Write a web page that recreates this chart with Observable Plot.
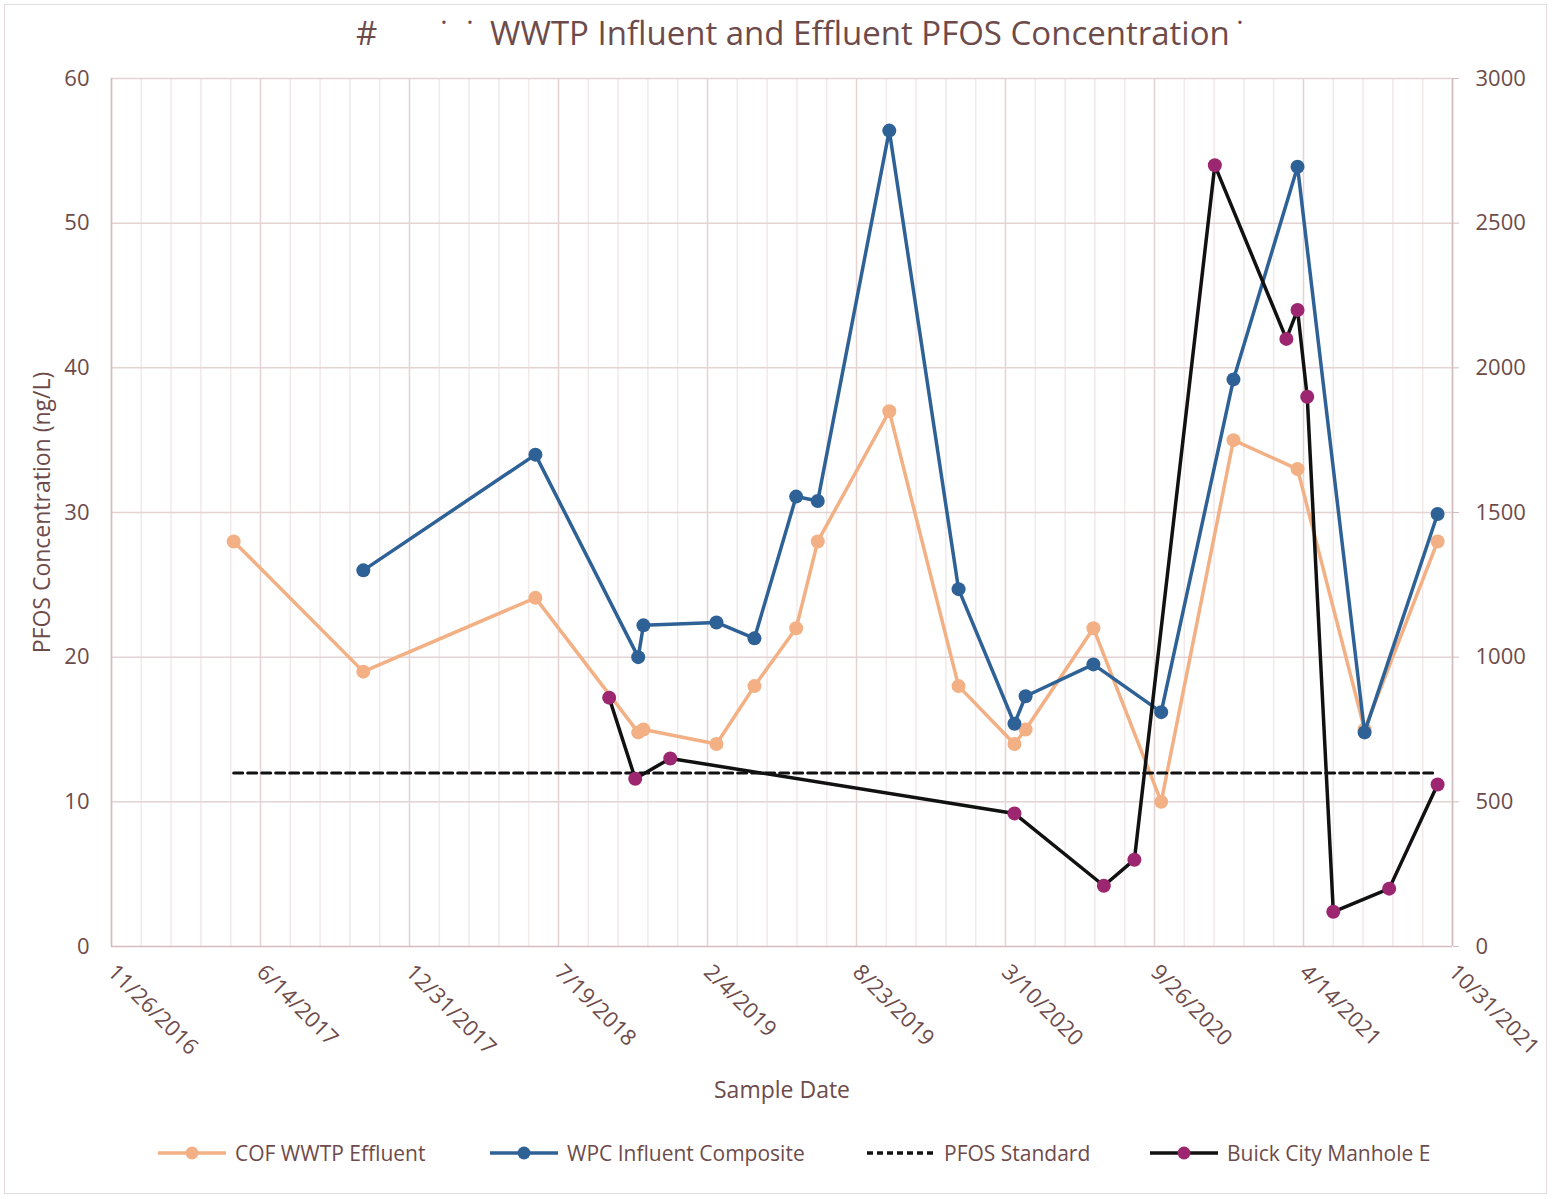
<!DOCTYPE html>
<html>
<head>
<meta charset="utf-8">
<script src="https://cdn.jsdelivr.net/npm/d3@7"></script>
<script src="https://cdn.jsdelivr.net/npm/@observablehq/plot@0.6"></script>
<style>
  html, body { margin:0; padding:0; background:#fff; }
  body { width:1559px; height:1199px; position:relative; overflow:hidden; font-family:"Open Sans", sans-serif; color:#6e4b4b; }
  #frame { position:absolute; left:4px; top:4px; width:1543px; height:1190px; border:1px solid #e6dada; box-sizing:border-box; }
  .tt { position:absolute; top:11px; font-size:33px; white-space:pre; color:#6e4b4b; line-height:44px; }
  #chart { position:absolute; left:0; top:60px; }
  .leg { position:absolute; top:1139px; height:28px; display:flex; align-items:center; font-size:21px; color:#6e4b4b; white-space:nowrap; }
  .leg svg { margin-right:8px; }
</style>
</head>
<body>
<div id="frame"></div>
<div id="title">
  <span class="tt" style="left:356px">#</span>
  <span class="tt" style="left:441px">˙</span>
  <span class="tt" style="left:467px">˙</span>
  <span class="tt" style="left:490px">WWTP Influent and Effluent PFOS Concentration</span>
  <span class="tt" style="left:1237px">˙</span>
</div>
<div id="chart"></div>
<div id="legend"></div>
<script>
// ---- data ----
const effluentDates = ["2017-05-09","2017-10-30","2018-06-18","2018-11-03","2018-11-10","2019-02-16","2019-04-08","2019-06-03","2019-07-02","2019-10-06","2020-01-07","2020-03-22","2020-04-06","2020-07-06","2020-10-05","2021-01-10","2021-04-06","2021-07-05","2021-10-11"];
const effluentValues = [28,19,24.1,14.8,15,14,18,22,28,37,18,14,15,22,10,35,33,15,28];

const influentDates = ["2017-10-30","2018-06-18","2018-11-03","2018-11-10","2019-02-16","2019-04-08","2019-06-03","2019-07-02","2019-10-06","2020-01-07","2020-03-22","2020-04-06","2020-07-06","2020-10-05","2021-01-10","2021-04-06","2021-07-05","2021-10-11"];
const influentValues = [26,34,20,22.2,22.4,21.3,31.1,30.8,56.4,24.7,15.4,17.3,19.5,16.2,39.2,53.9,14.8,29.9];

const standardDates = ["2017-05-09","2021-10-11"];
const standardValues = [12,12];

const buickDates = ["2018-09-25","2018-10-30","2018-12-16","2020-03-22","2020-07-20","2020-08-30","2020-12-16","2021-03-22","2021-04-06","2021-04-19","2021-05-24","2021-08-07","2021-10-11"];
const buickValues = [860,580,650,460,210,300,2700,2100,2200,1900,120,200,560];

const xTickLabels = ["11/26/2016","6/14/2017","12/31/2017","7/19/2018","2/4/2019","8/23/2019","3/10/2020","9/26/2020","4/14/2021","10/31/2021"];
const yLeftTicks = [0,10,20,30,40,50,60];
const yRightTicks = [0,500,1000,1500,2000,2500,3000];

const seriesNames = ["COF WWTP Effluent","WPC Influent Composite","PFOS Standard","Buick City Manhole E"];
const colors = { effluent:"#f2b084", influent:"#2e6196", buickLine:"#111111", buickDot:"#9c2770", standard:"#111111" };

// ---- build ----
const parseTick = d3.utcParse("%m/%d/%Y");
const majorTicks = xTickLabels.map(parseTick);
const xStart = majorTicks[0], xEnd = majorTicks[majorTicks.length-1];
const minorTicks = d3.range(0, 1801, 40).map(n => d3.utcDay.offset(xStart, n)).filter(d => !majorTicks.some(m => +m === +d));
const fmt = d3.utcFormat("%-m/%-d/%Y");
const ratio = 3000/60; // right axis / left axis

const eff = effluentDates.map((d,i)=>({date:new Date(d), v:effluentValues[i]}));
const inf = influentDates.map((d,i)=>({date:new Date(d), v:influentValues[i]}));
const std = standardDates.map((d,i)=>({date:new Date(d), v:standardValues[i]}));
const bui = buickDates.map((d,i)=>({date:new Date(d), v:buickValues[i]/ratio}));

const gridMajor = "#e3d3d3", gridMinor = "#f2e9e9", axisCol = "#d2bcbc";

const chart = Plot.plot({
  width:1559, height:1046,
  marginLeft:111, marginRight:107, marginTop:18, marginBottom:160,
  x:{type:"utc", domain:[xStart, xEnd]},
  y:{domain:[0,60]},
  style:{fontFamily:"Open Sans, sans-serif", fontSize:"22px", color:"#6e4b4b", background:"transparent", overflow:"visible"},
  marks:[
    Plot.ruleX(minorTicks, {stroke:gridMinor, strokeWidth:1.5}),
    Plot.ruleX(majorTicks, {stroke:gridMajor, strokeWidth:1.5}),
    Plot.ruleY(yLeftTicks.slice(1), {stroke:gridMajor, strokeWidth:1.5}),
    Plot.ruleX([xStart, xEnd], {stroke:axisCol, strokeWidth:1.5}),
    Plot.ruleY([0], {stroke:axisCol, strokeWidth:1.5}),
    Plot.axisX(majorTicks, {tickFormat:fmt, tickRotate:45, tickSize:0, tickPadding:22, fontSize:22, label:null}),
    Plot.axisY(yLeftTicks, {anchor:"left", tickSize:0, tickPadding:22, fontSize:22, label:null}),
    Plot.axisY(yRightTicks.map(v=>v/ratio), {anchor:"right", tickFormat:(d,i)=>String(yRightTicks[i]), tickSize:6, stroke:axisCol, tickPadding:17, fontSize:22, label:null}),
    Plot.text(["PFOS Concentration (ng/L)"], {frameAnchor:"left", textAnchor:"middle", dx:-69, rotate:-90, fontSize:23, fill:"#6e4b4b"}),
    Plot.text(["Sample Date"], {frameAnchor:"bottom", dy:151, fontSize:23, fill:"#6e4b4b"}),
    Plot.line(eff, {x:"date", y:"v", stroke:colors.effluent, strokeWidth:3.5}),
    Plot.dot(eff, {x:"date", y:"v", fill:colors.effluent, r:7}),
    Plot.line(inf, {x:"date", y:"v", stroke:colors.influent, strokeWidth:3.5}),
    Plot.dot(inf, {x:"date", y:"v", fill:colors.influent, r:7}),
    Plot.line(std, {x:"date", y:"v", stroke:colors.standard, strokeWidth:3, strokeDasharray:"9,5"}),
    Plot.line(bui, {x:"date", y:"v", stroke:colors.buickLine, strokeWidth:3.5}),
    Plot.dot(bui, {x:"date", y:"v", fill:colors.buickDot, r:7})
  ]
});
document.getElementById("chart").appendChild(chart);

// ---- legend ----
const legend = document.getElementById("legend");
const legItems = [
  {name:seriesNames[0], left:157, line:colors.effluent, dot:colors.effluent, dash:null},
  {name:seriesNames[1], left:489, line:colors.influent, dot:colors.influent, dash:null},
  {name:seriesNames[2], left:866, line:colors.standard, dot:null, dash:"6,4"},
  {name:seriesNames[3], left:1149, line:colors.buickLine, dot:colors.buickDot, dash:null}
];
legItems.forEach(it => {
  const div = document.createElement("div");
  div.className = "leg";
  div.style.left = it.left + "px";
  const s = `<svg width="70" height="20"><line x1="1" x2="69" y1="10" y2="10" stroke="${it.line}" stroke-width="3.5" ${it.dash?`stroke-dasharray="${it.dash}"`:""}/>${it.dot?`<circle cx="35" cy="10" r="6.5" fill="${it.dot}"/>`:""}</svg>`;
  div.innerHTML = s + `<span>${it.name}</span>`;
  legend.appendChild(div);
});
</script>
</body>
</html>
